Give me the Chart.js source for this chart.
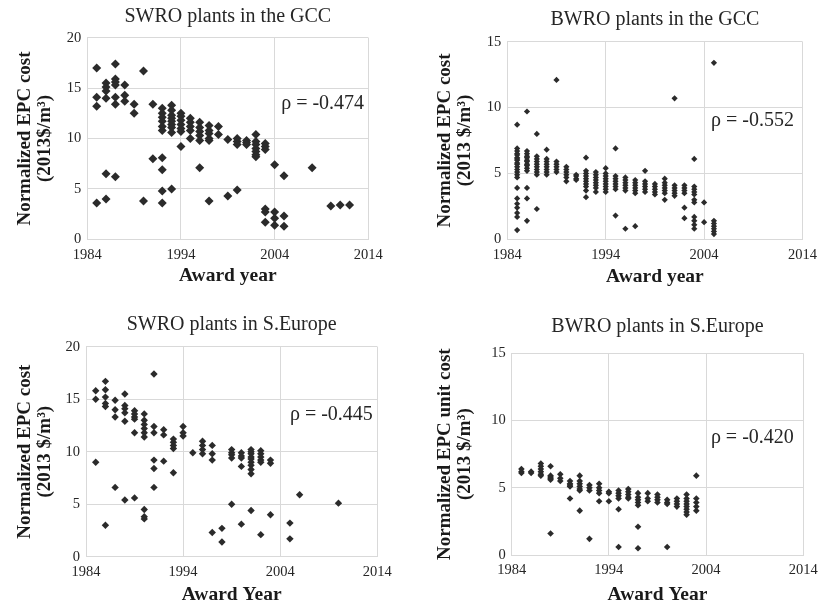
<!DOCTYPE html>
<html><head><meta charset="utf-8">
<script src="https://cdn.jsdelivr.net/npm/chart.js@4.4.1/dist/chart.umd.min.js"></script>
<style>
html,body{margin:0;padding:0;background:#fff;width:824px;height:605px;overflow:hidden;}
canvas{position:absolute;}
</style></head><body>
<canvas id="c1" width="410" height="300" style="left:0;top:0"></canvas>
<canvas id="c2" width="404" height="300" style="left:420px;top:0"></canvas>
<canvas id="c3" width="410" height="305" style="left:0;top:300px"></canvas>
<canvas id="c4" width="404" height="305" style="left:420px;top:300px"></canvas>
<script>
// ---- tick labels ----
const xTicks = [1984, 1994, 2004, 2014];
const yTicksSwro = [0, 5, 10, 15, 20];
const yTicksBwro = [0, 5, 10, 15];

// ---- SWRO plants in the GCC ----
const swroGccYears = [1985,1986,1987,1988,1989,1990,1991,1992,1993,1994,1995,1996,1997,1998,1999,2000,2001,2002,2003,2004,2005,2008,2010,2011,2012];
const swroGccCosts = [
  [17.0,14.1,13.2,3.6],
  [15.5,15.1,14.7,14.0,6.5,4.0],
  [17.4,15.9,15.6,15.3,14.1,13.4,6.2],
  [15.3,14.3,13.7],
  [13.4,12.5],
  [16.7,3.8],
  [13.4,8.0],
  [13.0,12.5,12.1,11.7,11.2,10.8,8.1,6.9,4.8,3.6],
  [13.3,12.8,12.3,12.0,11.7,11.4,11.1,10.6,5.0],
  [12.5,12.2,11.8,11.4,11.0,10.7,9.2],
  [12.0,11.6,11.2,10.8,10.0],
  [11.6,11.1,10.7,10.3,9.8,7.1],
  [11.3,10.8,10.5,10.0,9.8,3.8],
  [11.2,10.4],
  [9.9,4.3],
  [10.0,9.7,9.4,4.9],
  [9.8,9.6,9.4],
  [10.4,9.7,9.4,9.0,8.7,8.4,8.2],
  [9.5,9.2,8.9,3.0,2.7,1.7],
  [7.4,2.7,2.1,1.4],
  [6.3,2.3,1.3],
  [7.1],
  [3.3],
  [3.4],
  [3.4]
];

// ---- BWRO plants in the GCC ----
const bwroGccYears = [1985,1986,1987,1988,1989,1990,1991,1992,1993,1994,1995,1996,1997,1998,1999,2000,2001,2002,2003,2004,2005];
const bwroGccCosts = [
  [8.7,6.9,6.7,6.5,6.4,6.2,6.1,6.0,5.8,5.7,5.5,5.3,5.1,4.9,4.7,3.9,3.1,2.7,2.4,2.0,1.7,0.7],
  [9.7,6.7,6.5,6.3,6.2,6.0,5.9,5.7,5.6,5.4,5.2,3.9,3.1,1.4],
  [8.0,6.3,6.1,5.9,5.7,5.5,5.3,5.1,4.9,2.3],
  [6.8,6.1,5.9,5.7,5.5,5.3,5.1,4.9],
  [12.1,5.9,5.7,5.5,5.3,5.1],
  [5.5,5.3,5.1,4.9,4.7,4.4],
  [4.9,4.8,4.6,4.5],
  [6.2,5.2,5.0,4.8,4.6,4.4,4.2,4.0,3.7,3.2],
  [5.1,4.9,4.7,4.5,4.3,4.1,3.9,3.6],
  [5.4,5.0,4.8,4.6,4.4,4.2,4.0,3.8,3.6],
  [6.9,4.8,4.6,4.4,4.2,4.0,3.8,1.8],
  [4.7,4.5,4.3,4.1,3.9,3.7,0.8],
  [4.5,4.3,4.1,3.9,3.7,3.5,1.0],
  [5.2,4.4,4.2,4.0,3.8,3.6],
  [4.2,4.0,3.8,3.6,3.4],
  [4.6,4.3,4.1,3.9,3.7,3.5,3.0],
  [10.7,4.1,3.9,3.7,3.5,3.3],
  [4.1,3.9,3.7,3.5,2.4,1.6],
  [6.1,4.0,3.8,3.6,3.4,3.0,2.8,1.7,1.4,1.1,0.8],
  [2.8,1.3],
  [13.4,1.4,1.2,1.0,0.8,0.6,0.4]
];

// ---- SWRO plants in S.Europe ----
const swroEuYears = [1985,1986,1987,1988,1989,1990,1991,1992,1993,1994,1995,1996,1997,1998,1999,2000,2001,2002,2003,2005,2006,2010];
const swroEuCosts = [
  [15.8,15.0,9.0],
  [16.7,15.9,15.2,14.6,14.3,3.0],
  [14.9,14.0,13.3,6.6],
  [15.5,14.4,14.1,13.7,12.9,5.4],
  [13.9,13.6,13.3,13.1,11.8,5.6],
  [13.6,13.0,12.6,12.2,11.8,11.4,4.5,3.8,3.6],
  [17.4,12.4,11.8,9.2,8.4,6.6],
  [12.1,11.6,9.1],
  [11.2,10.9,10.6,10.3,8.0],
  [12.4,11.8,11.5],
  [9.9],
  [11.0,10.6,10.2,9.8],
  [10.6,9.8,9.2,2.3],
  [2.7,1.4],
  [10.2,9.9,9.7,9.4,5.0],
  [9.9,9.6,9.4,8.6,3.1],
  [10.2,10.0,9.8,9.5,9.3,9.0,8.7,8.3,7.9,4.4],
  [10.1,9.8,9.5,9.2,9.0,2.1],
  [9.2,8.9,4.0],
  [3.2,1.7],
  [5.9],
  [5.1]
];

// ---- BWRO plants in S.Europe ----
const bwroEuYears = [1985,1986,1987,1988,1989,1990,1991,1992,1993,1994,1995,1996,1997,1998,1999,2000,2001,2002,2003];
const bwroEuCosts = [
  [6.4,6.2,6.1],
  [6.2,6.1],
  [6.8,6.6,6.4,6.2,6.0,5.9],
  [6.6,5.9,5.8,5.7,5.6,1.6],
  [6.0,5.7,5.5],
  [5.5,5.3,5.2,5.1,4.2],
  [5.9,5.5,5.3,5.1,4.9,4.8,3.3],
  [5.2,5.0,4.8,1.2],
  [5.3,5.0,4.8,4.6,4.0],
  [4.7,4.6,4.0],
  [4.8,4.6,4.4,4.2,3.4,0.6],
  [4.9,4.7,4.5,4.3,4.2],
  [4.6,4.3,4.1,3.9,3.7,2.1,0.5],
  [4.6,4.2,4.0],
  [4.5,4.3,4.1,3.9],
  [4.1,3.9,3.8,0.6],
  [4.2,4.0,3.8,3.6],
  [4.5,4.2,4.0,3.8,3.6,3.4,3.2,3.0],
  [5.9,4.2,3.9,3.6,3.3]
];

// ---- correlation labels ----
const rhoLabels = ['\u03c1 = -0.474', '\u03c1 = -0.552', '\u03c1 = -0.445', '\u03c1 = -0.420'];

const SERIF = '"Liberation Serif", "Times New Roman", serif';
const GRID = '#d9d9d9';
const TXT = '#262626';
const MARK = '#2b2b2b';

function toPoints(years, costs) {
  return years.flatMap((yr, i) => costs[i].map(v => ({x: yr, y: v})));
}

const rhoPlugin = {
  id: 'rho',
  afterDatasetsDraw(chart, args, opts) {
    const {ctx} = chart;
    const xs = chart.scales.x, ys = chart.scales.y;
    ctx.save();
    ctx.font = '20px ' + SERIF;
    ctx.fillStyle = TXT;
    ctx.textAlign = 'left';
    ctx.textBaseline = 'middle';
    ctx.fillText(opts.text, xs.getPixelForValue(opts.xVal), ys.getPixelForValue(opts.yVal));
    ctx.restore();
  }
};

function makeChart(id, p) {
  return new Chart(document.getElementById(id), {
    type: 'scatter',
    data: {datasets: [{
      data: toPoints(p.years, p.costs),
      pointStyle: 'rectRot', pointRadius: p.r, pointHoverRadius: p.r,
      backgroundColor: MARK, borderColor: MARK, borderWidth: 0
    }]},
    options: {
      responsive: false, animation: false, events: [],
      layout: {padding: {left: 0, right: p.padRight, top: 0, bottom: 0}},
      plugins: {
        legend: {display: false}, tooltip: {enabled: false},
        title: {display: true, text: p.title, fullSize: false, color: TXT,
          font: {family: SERIF, size: 20, weight: 'normal', lineHeight: 1.2},
          padding: {top: p.titleTop, bottom: p.titleBottom}},
        rho: {text: p.rho, xVal: p.rhoX, yVal: p.rhoY}
      },
      scales: {
        x: {
          type: 'linear', min: xTicks[0], max: xTicks[xTicks.length - 1],
          afterBuildTicks: s => { s.ticks = xTicks.map(v => ({value: v})); },
          grid: {color: GRID, drawTicks: false, lineWidth: 1},
          border: {color: GRID},
          ticks: {font: {family: SERIF, size: 14.5, lineHeight: 1.2}, color: TXT, padding: p.xTickPad,
            maxRotation: 0, autoSkip: false, callback: v => String(v)},
          title: {display: true, text: p.xTitle, color: '#1a1a1a',
            font: {family: SERIF, size: 19.5, weight: 'bold', lineHeight: 1},
            padding: {top: 0, bottom: p.xTitleBottom}},
          afterFit: s => { s.height = p.xH; }
        },
        y: {
          type: 'linear', min: p.yTicks[0], max: p.yTicks[p.yTicks.length - 1],
          afterBuildTicks: s => { s.ticks = p.yTicks.map(v => ({value: v})); },
          grid: {color: GRID, drawTicks: false, lineWidth: 1},
          border: {color: GRID},
          ticks: {font: {family: SERIF, size: 14.5, lineHeight: 1.2}, color: TXT, padding: 6,
            callback: v => String(v)},
          title: {display: true, text: p.yTitle, color: '#1a1a1a',
            font: {family: SERIF, size: 19, weight: 'bold', lineHeight: 20 / 19},
            padding: {top: 15, bottom: 0}},
          afterFit: s => { s.width = p.yW; }
        }
      }
    },
    plugins: [rhoPlugin]
  });
}

makeChart('c1', {
  years: swroGccYears, costs: swroGccCosts, r: 4.5, yTicks: yTicksSwro,
  title: 'SWRO plants in the GCC', xTitle: 'Award year',
  yTitle: ['Normalized EPC cost', '(2013$/m\u00b3)'],
  rho: rhoLabels[0], rhoX: 2004.7, rhoY: 13.4,
  yW: 87.3, padRight: 41.7, titleTop: 5, titleBottom: 8.7, xH: 60.7, xTickPad: 7, xTitleBottom: 14.5
});
makeChart('c2', {
  years: bwroGccYears, costs: bwroGccCosts, r: 3.1, yTicks: yTicksBwro,
  title: 'BWRO plants in the GCC', xTitle: 'Award year',
  yTitle: ['Normalized EPC cost', '(2013 $/m\u00b3)'],
  rho: rhoLabels[1], rhoX: 2004.7, rhoY: 9.0,
  yW: 87.3, padRight: 18, titleTop: 8, titleBottom: 9.7, xH: 60.7, xTickPad: 7, xTitleBottom: 13.2
});
makeChart('c3', {
  years: swroEuYears, costs: swroEuCosts, r: 3.7, yTicks: yTicksSwro,
  title: 'SWRO plants in S.Europe', xTitle: 'Award Year',
  yTitle: ['Normalized EPC cost', '(2013 $/m\u00b3)'],
  rho: rhoLabels[2], rhoX: 2005.0, rhoY: 13.5,
  yW: 86, padRight: 32.7, titleTop: 13, titleBottom: 9.7, xH: 48.3, xTickPad: 6.3, xTitleBottom: 0.5
});
makeChart('c4', {
  years: bwroEuYears, costs: bwroEuCosts, r: 3.3, yTicks: yTicksBwro,
  title: 'BWRO plants in S.Europe', xTitle: 'Award Year',
  yTitle: ['Normalized EPC unit cost', '(2013 $/m\u00b3)'],
  rho: rhoLabels[3], rhoX: 2004.5, rhoY: 8.7,
  yW: 91.7, padRight: 17.3, titleTop: 14.7, titleBottom: 14.6, xH: 50, xTickPad: 6.3, xTitleBottom: 0.5
});
</script>
</body></html>
